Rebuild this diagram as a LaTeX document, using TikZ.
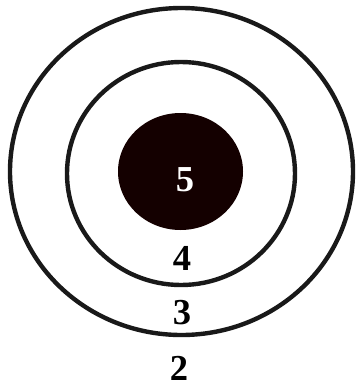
\documentclass[tikz,border=0pt]{standalone}
\usepackage{fontspec}
\setmainfont{Liberation Serif}
\usetikzlibrary{positioning}

\begin{document}
\begin{tikzpicture}[
  x=0.25mm, y=-0.25mm,
  ring/.style={draw=black!90, line width=1.1mm},
  score/.style={font=\fontsize{26}{30}\selectfont\bfseries, inner sep=0pt}
]
\useasboundingbox (0,0) rectangle (360,386);
% Rings
\draw[ring] (181.5,171.5) ellipse [x radius=171.5, y radius=163.5];
\draw[ring] (181,173.5) ellipse [x radius=114, y radius=111.5];
% Bull
\fill[black!92!red] (180.5,171.5) ellipse [x radius=62.5, y radius=58.5];
% Scores
\node[score, text=white] (s5) at (185,180) {5};
\node[score] (s4) at (182,258) {4};
\node[score] (s3) at (182,313) {3};
\node[score] (s2) at (179,368) {2};
\end{tikzpicture}
\end{document}
